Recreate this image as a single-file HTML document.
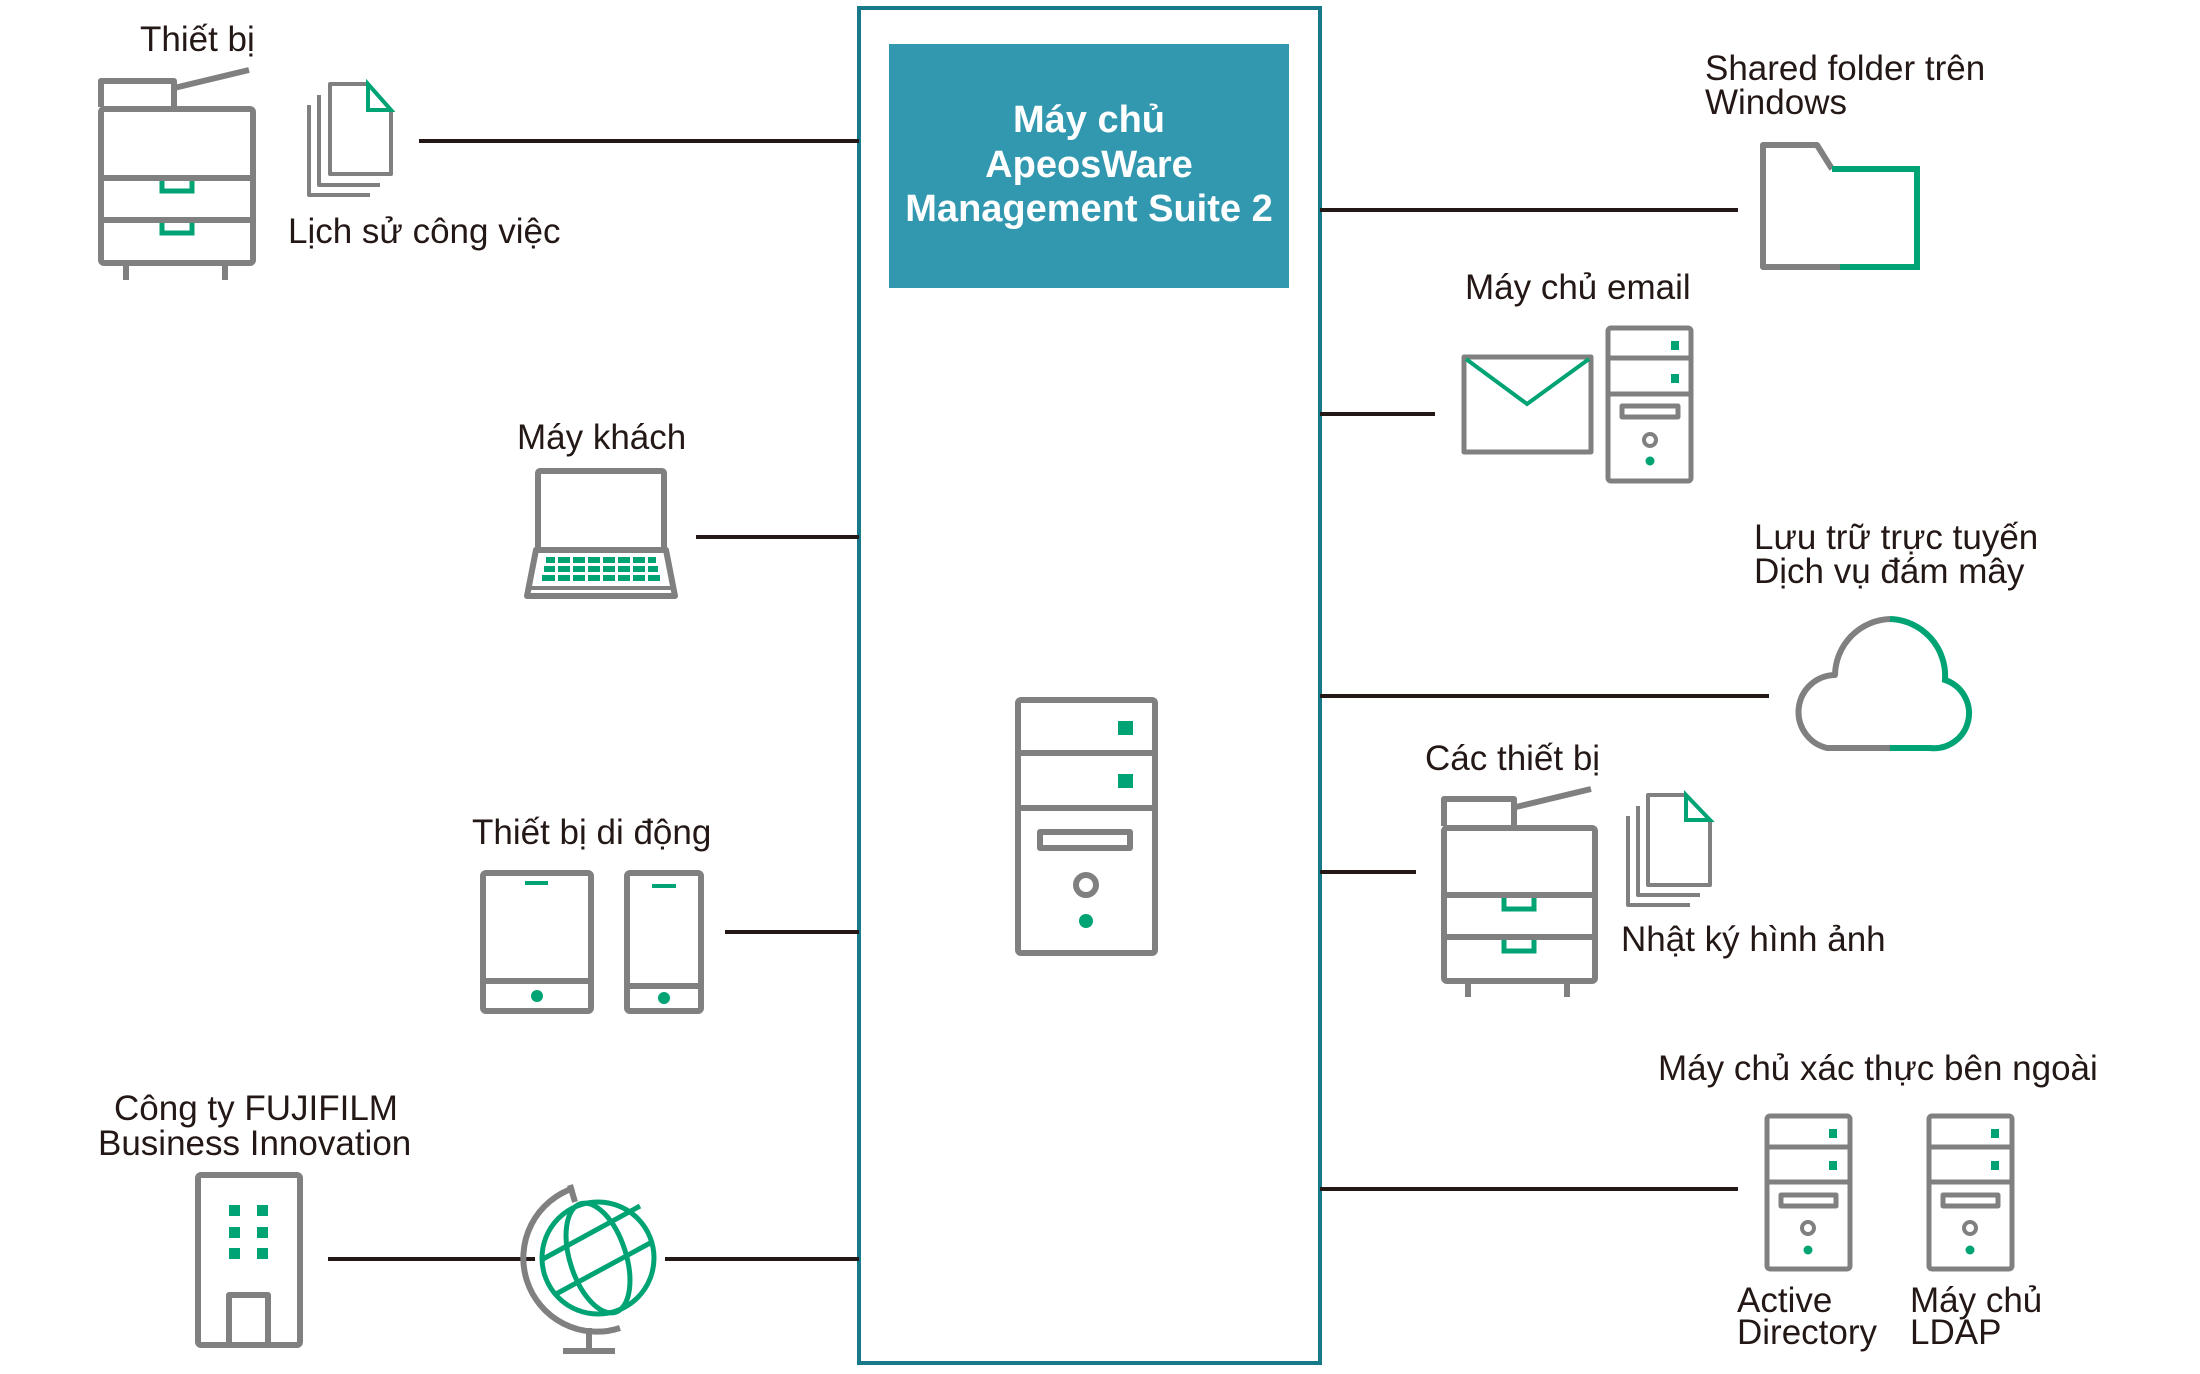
<!DOCTYPE html>
<html><head><meta charset="utf-8"><style>
html,body{margin:0;padding:0;background:#fff;}
svg{display:block;}
text{font-family:"Liberation Sans","DejaVu Sans",sans-serif;fill:#231815;font-size:35px;}
.g{fill:none;stroke:#808080;stroke-width:6;stroke-linejoin:round;}
.gr{fill:none;stroke:#00a373;stroke-width:5;}
.gf{fill:#00a373;}
.ln{stroke:#231815;stroke-width:4;}
</style></head><body>
<svg width="2200" height="1374" viewBox="0 0 2200 1374" xmlns="http://www.w3.org/2000/svg">
<!-- main box -->
<rect x="859" y="8" width="461" height="1355" fill="none" stroke="#17798a" stroke-width="4"/>
<rect x="889" y="44" width="400" height="244" fill="#3298b0"/>
<g style="font-weight:bold" text-anchor="middle">
<text x="1089" y="132" style="fill:#fff;font-size:38px">Máy chủ</text>
<text x="1089" y="177" style="fill:#fff;font-size:38px">ApeosWare</text>
<text x="1089" y="221" style="fill:#fff;font-size:38px">Management Suite 2</text>
</g>
<!-- central server -->
<rect class="g" x="1018" y="700" width="137" height="253" rx="3"/>
<line class="g" x1="1018" y1="753" x2="1155" y2="753"/>
<line class="g" x1="1018" y1="808" x2="1155" y2="808"/>
<rect class="g" x="1040" y="832" width="90" height="16"/>
<circle class="g" cx="1086" cy="885" r="10"/>
<circle class="gf" cx="1086" cy="921" r="7"/>
<rect class="gf" x="1118" y="721" width="15" height="14"/>
<rect class="gf" x="1118" y="774" width="15" height="14"/>

<!-- connectors -->
<line class="ln" x1="419" y1="141" x2="859" y2="141"/>
<line class="ln" x1="696" y1="537" x2="859" y2="537"/>
<line class="ln" x1="725" y1="932" x2="859" y2="932"/>
<line class="ln" x1="328" y1="1259" x2="859" y2="1259"/>
<line class="ln" x1="1320" y1="210" x2="1738" y2="210"/>
<line class="ln" x1="1320" y1="414" x2="1435" y2="414"/>
<line class="ln" x1="1320" y1="696" x2="1769" y2="696"/>
<line class="ln" x1="1320" y1="872" x2="1416" y2="872"/>
<line class="ln" x1="1320" y1="1189" x2="1738" y2="1189"/>

<!-- printer 1 -->
<text x="140" y="51">Thiết bị</text>
<path class="g" d="M101,107 V81 H174 V107"/>
<line class="g" x1="174" y1="88" x2="249" y2="70"/>
<rect class="g" x="101" y="109" width="152" height="154" rx="3"/>
<line class="g" x1="101" y1="178" x2="253" y2="178"/>
<line class="g" x1="101" y1="220" x2="253" y2="220"/>
<line class="g" x1="126" y1="263" x2="126" y2="280"/>
<line class="g" x1="225" y1="263" x2="225" y2="280"/>
<path class="gr" d="M162,181 V191 H192 V181"/>
<path class="gr" d="M162,223 V233 H192 V223"/>
<!-- docs 1 -->
<path class="g" style="stroke-width:4" d="M309,105 V195 H370"/>
<path class="g" style="stroke-width:4" d="M319,95 V185 H380"/>
<path class="g" style="stroke-width:4" d="M368,84 H330 V174 H391 V110"/>
<path class="gr" style="stroke-width:4" d="M368,84 V110 H391 Z"/>
<text x="288" y="243">Lịch sử công việc</text>

<!-- laptop -->
<text x="517" y="449">Máy khách</text>
<rect class="g" x="538" y="471" width="126" height="79" rx="2"/>
<path class="g" d="M536,550 H666 L675,596 H527 Z"/>
<line class="g" style="stroke-width:4" x1="527" y1="588" x2="675" y2="588"/>
<g class="gf">
<rect x="546" y="557" width="110" height="6"/>
<rect x="544" y="566" width="114" height="6"/>
<rect x="542" y="575" width="118" height="6"/>
</g>
<g fill="#fff">
<rect x="555" y="556" width="3" height="27"/><rect x="570" y="556" width="3" height="27"/><rect x="585" y="556" width="3" height="27"/><rect x="600" y="556" width="3" height="27"/><rect x="615" y="556" width="3" height="27"/><rect x="630" y="556" width="3" height="27"/><rect x="645" y="556" width="3" height="27"/>
</g>

<!-- mobile -->
<text x="472" y="844">Thiết bị di động</text>
<rect class="g" x="483" y="873" width="108" height="138" rx="3"/>
<line class="g" x1="483" y1="981" x2="591" y2="981"/>
<line x1="525" y1="883" x2="548" y2="883" stroke="#00a373" stroke-width="4"/>
<circle class="gf" cx="537" cy="996" r="6"/>
<rect class="g" x="627" y="873" width="74" height="138" rx="3"/>
<line class="g" x1="627" y1="986" x2="701" y2="986"/>
<line x1="652" y1="886" x2="676" y2="886" stroke="#00a373" stroke-width="4"/>
<circle class="gf" cx="664" cy="998" r="6"/>

<!-- company -->
<text x="114" y="1120">Công ty FUJIFILM</text>
<text x="98" y="1155">Business Innovation</text>
<rect class="g" x="198" y="1175" width="102" height="170" rx="3"/>
<path class="g" d="M229,1345 V1295 H268 V1345"/>
<g class="gf">
<rect x="229" y="1205" width="11" height="11"/><rect x="257" y="1205" width="11" height="11"/>
<rect x="229" y="1227" width="11" height="11"/><rect x="257" y="1227" width="11" height="11"/>
<rect x="229" y="1248" width="11" height="11"/><rect x="257" y="1248" width="11" height="11"/>
</g>
<!-- globe -->
<rect x="535" y="1200" width="130" height="120" fill="#fff"/>
<path class="g" d="M574,1188 A68,68 0 0 0 620,1328"/>
<line class="g" x1="570" y1="1185" x2="575" y2="1202"/>
<line class="g" x1="589" y1="1328" x2="589" y2="1350"/>
<line class="g" x1="563" y1="1351" x2="615" y2="1351"/>
<circle class="gr" cx="598" cy="1258" r="56"/>
<ellipse class="gr" cx="598" cy="1258" rx="28" ry="57" transform="rotate(-18 598 1258)"/>
<line class="gr" x1="543" y1="1259" x2="640" y2="1206"/>
<line class="gr" x1="556" y1="1294" x2="652" y2="1242"/>

<!-- shared folder -->
<text x="1705" y="80">Shared folder trên</text>
<text x="1705" y="114">Windows</text>
<path class="g" d="M1840,267 H1763 V145 H1817 L1832,169"/>
<path class="gr" style="stroke-width:6" d="M1832,169 H1917 V267 H1840"/>

<!-- email -->
<text x="1465" y="299">Máy chủ email</text>
<rect class="g" style="stroke-width:5" x="1464" y="357" width="127" height="95"/>
<path class="gr" style="stroke-width:4" d="M1466,359 L1527,404 L1589,359"/>
<rect class="g" style="stroke-width:5" x="1608" y="328" width="83" height="153" rx="3"/>
<line class="g" style="stroke-width:5" x1="1608" y1="358" x2="1691" y2="358"/>
<line class="g" style="stroke-width:5" x1="1608" y1="394" x2="1691" y2="394"/>
<rect class="g" style="stroke-width:5" x="1622" y="406" width="56" height="11"/>
<circle class="g" style="stroke-width:4" cx="1650" cy="440" r="6"/>
<circle class="gf" cx="1650" cy="461" r="4.5"/>
<rect class="gf" x="1671" y="341" width="8" height="9"/>
<rect class="gf" x="1671" y="374" width="8" height="9"/>

<!-- cloud -->
<text x="1754" y="549">Lưu trữ trực tuyến</text>
<text x="1754" y="583">Dịch vụ đám mây</text>
<g transform="translate(-5,0)">
<path class="g" d="M1895,748 H1832 A37,37 0 0 1 1840,675 A57,57 0 0 1 1895,619"/>
<path class="gr" style="stroke-width:6" d="M1895,619 A57,57 0 0 1 1950,680 A35,35 0 0 1 1935,748 H1895"/>
</g>

<!-- printer 2 -->
<text x="1425" y="770">Các thiết bị</text>
<path class="g" d="M1444,826 V799 H1514 V826"/>
<line class="g" x1="1516" y1="807" x2="1591" y2="789"/>
<rect class="g" x="1444" y="828" width="151" height="153" rx="3"/>
<line class="g" x1="1444" y1="895" x2="1595" y2="895"/>
<line class="g" x1="1444" y1="937" x2="1595" y2="937"/>
<line class="g" x1="1468" y1="981" x2="1468" y2="997"/>
<line class="g" x1="1567" y1="981" x2="1567" y2="997"/>
<path class="gr" d="M1504,898 V909 H1534 V898"/>
<path class="gr" d="M1504,940 V951 H1534 V940"/>
<path class="g" style="stroke-width:4" d="M1628,816 V905 H1690"/>
<path class="g" style="stroke-width:4" d="M1638,806 V895 H1700"/>
<path class="g" style="stroke-width:4" d="M1686,795 H1648 V885 H1710 V820"/>
<path class="gr" style="stroke-width:4" d="M1686,795 V820 H1710 Z"/>
<text x="1621" y="951">Nhật ký hình ảnh</text>

<!-- auth servers -->
<text x="1658" y="1080">Máy chủ xác thực bên ngoài</text>
<g id="srv">
<rect class="g" style="stroke-width:5" x="1767" y="1116" width="83" height="153" rx="3"/>
<line class="g" style="stroke-width:5" x1="1767" y1="1147" x2="1850" y2="1147"/>
<line class="g" style="stroke-width:5" x1="1767" y1="1182" x2="1850" y2="1182"/>
<rect class="g" style="stroke-width:5" x="1781" y="1195" width="55" height="11"/>
<circle class="g" style="stroke-width:4" cx="1808" cy="1228" r="6"/>
<circle class="gf" cx="1808" cy="1250" r="4.5"/>
<rect class="gf" x="1829" y="1129" width="8" height="9"/>
<rect class="gf" x="1829" y="1161" width="8" height="9"/>
</g>
<use href="#srv" x="162" y="0"/>
<text x="1737" y="1312">Active</text>
<text x="1737" y="1344">Directory</text>
<text x="1910" y="1312">Máy chủ</text>
<text x="1910" y="1344">LDAP</text>
</svg>
</body></html>
